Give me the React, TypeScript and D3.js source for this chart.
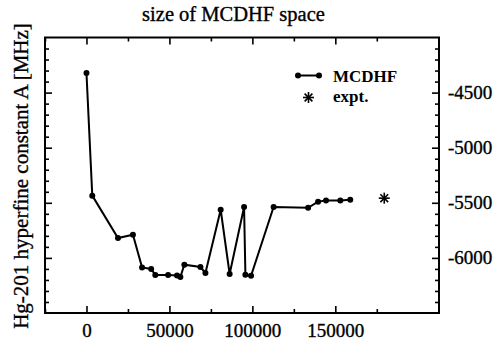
import React, { useEffect, useRef } from 'react';
import * as d3 from 'd3';

// size of MCDHF space (x) vs hyperfine constant A in MHz (y)
const spaceSize = [0, 3500, 19000, 28000, 33500, 39000, 41500, 49200, 54600, 56600, 59000, 68700,
  71700, 80900, 86300, 95000, 95800, 99200, 112800, 133600, 139600, 144400, 153000, 159000];
const hfsA = [-4323, -5435, -5820, -5790, -6086, -6100, -6155, -6155, -6159, -6173, -6062, -6083,
  -6137, -5563, -6146, -5538, -6152, -6162, -5538, -5545, -5490, -5478, -5478, -5472];
const exptX = [179500];
const exptA = [-5458];

const xMajor = [0, 50000, 100000, 150000];
const xMinor = [-25000, 25000, 75000, 125000, 175000];
const yMajor = [-4500, -5000, -5500, -6000];

const W = 495;
const H = 341;

const App = () => {
  const svgRef = useRef<SVGSVGElement>(null);

  useEffect(() => {
    const svg = d3.select(svgRef.current);
    svg.selectAll('*').remove();

    const margin = { top: 37.5, right: 56, bottom: 28, left: 45 };
    const width = W - margin.left - margin.right;
    const height = H - margin.top - margin.bottom;
    const font = '"Liberation Serif", "Times New Roman", serif';

    const g = svg.append('g').attr('transform', `translate(${margin.left},${margin.top})`);

    const x = d3.scaleLinear().domain([-25000, 212500]).range([0, width]);
    const y = d3.scaleLinear().domain([-6500, -4000]).range([height, 0]);

    const yMinor = d3.range(-6400, -4000, 100).filter(v => v % 500 !== 0);

    const styleAxis = (sel: any) => {
      sel.select('.domain').remove();
      sel.selectAll('line').attr('stroke', '#000').attr('stroke-width', 1.6);
      sel.selectAll('text').attr('font-family', font).attr('font-size', 19).attr('fill', '#000')
        .attr('stroke', '#000').attr('stroke-width', 0.35);
    };

    // bottom axis with labels
    g.append('g').attr('transform', `translate(0,${height})`)
      .call(d3.axisBottom(x).tickValues(xMajor).tickSize(-7).tickSizeOuter(0).tickPadding(11).tickFormat(d => String(d)))
      .call(styleAxis);
    g.append('g').attr('transform', `translate(0,${height})`)
      .call(d3.axisBottom(x).tickValues(xMinor).tickSize(-4).tickSizeOuter(0).tickFormat(() => ''))
      .call(styleAxis);
    // top axis
    g.append('g')
      .call(d3.axisTop(x).tickValues(xMajor).tickSize(-7).tickSizeOuter(0).tickFormat(() => ''))
      .call(styleAxis);
    g.append('g')
      .call(d3.axisTop(x).tickValues(xMinor).tickSize(-4).tickSizeOuter(0).tickFormat(() => ''))
      .call(styleAxis);
    // left axis
    g.append('g')
      .call(d3.axisLeft(y).tickValues(yMajor).tickSize(-7).tickSizeOuter(0).tickFormat(() => ''))
      .call(styleAxis);
    g.append('g')
      .call(d3.axisLeft(y).tickValues(yMinor).tickSize(-4).tickSizeOuter(0).tickFormat(() => ''))
      .call(styleAxis);
    // right axis with labels
    g.append('g').attr('transform', `translate(${width},0)`)
      .call(d3.axisRight(y).tickValues(yMajor).tickSize(-7).tickSizeOuter(0).tickPadding(9).tickFormat(d => String(d)))
      .call(styleAxis);
    g.append('g').attr('transform', `translate(${width},0)`)
      .call(d3.axisRight(y).tickValues(yMinor).tickSize(-4).tickSizeOuter(0).tickFormat(() => ''))
      .call(styleAxis);

    // frame
    g.append('rect')
      .attr('width', width).attr('height', height)
      .attr('fill', 'none').attr('stroke', '#000').attr('stroke-width', 2);

    const pts = spaceSize.map((s, i) => [s, hfsA[i]] as [number, number]);

    const line = d3.line<[number, number]>().x(d => x(d[0])).y(d => y(d[1]));
    g.append('path').datum(pts)
      .attr('d', line)
      .attr('fill', 'none').attr('stroke', '#000').attr('stroke-width', 2);

    g.selectAll('.dot').data(pts).enter().append('circle')
      .attr('class', 'dot')
      .attr('cx', d => x(d[0])).attr('cy', d => y(d[1]))
      .attr('r', 3).attr('fill', '#000');

    // asterisk for experiment
    const star = (sel: any, cx: number, cy: number, r: number) => {
      [0, 45, 90, 135].forEach(a => {
        const rad = (a * Math.PI) / 180;
        sel.append('line')
          .attr('x1', cx - r * Math.cos(rad)).attr('y1', cy - r * Math.sin(rad))
          .attr('x2', cx + r * Math.cos(rad)).attr('y2', cy + r * Math.sin(rad))
          .attr('stroke', '#000').attr('stroke-width', 1.6);
      });
    };
    exptX.forEach((v, i) => star(g, x(v), y(exptA[i]), 5.5));

    // legend
    const lg = svg.append('g');
    lg.append('line').attr('x1', 298).attr('x2', 319).attr('y1', 75.5).attr('y2', 75.5)
      .attr('stroke', '#000').attr('stroke-width', 2);
    lg.append('circle').attr('cx', 298).attr('cy', 75.5).attr('r', 3);
    lg.append('circle').attr('cx', 319).attr('cy', 75.5).attr('r', 3);
    lg.append('text').attr('x', 333).attr('y', 82).attr('font-family', font).attr('font-size', 17)
      .attr('font-weight', 'bold').text('MCDHF');
    star(lg, 308.5, 97.5, 5.5);
    lg.append('text').attr('x', 333).attr('y', 102).attr('font-family', font).attr('font-size', 17)
      .attr('font-weight', 'bold').text('expt.');

    // title and y label
    svg.append('text').attr('x', 233.5).attr('y', 21).attr('text-anchor', 'middle')
      .attr('font-family', font).attr('font-size', 20.5).attr('stroke', '#000').attr('stroke-width', 0.35)
      .text('size of MCDHF space');
    svg.append('text').attr('transform', 'rotate(-90)')
      .attr('x', -176).attr('y', 28).attr('text-anchor', 'middle')
      .attr('font-family', font).attr('font-size', 21).attr('stroke', '#000').attr('stroke-width', 0.35)
      .text('Hg-201 hyperfine constant A [MHz]');
  }, []);

  return <svg ref={svgRef} width={W} height={H} style={{ position: 'absolute', left: 0, top: 0, background: '#fff' }} />;
};

export default App;
